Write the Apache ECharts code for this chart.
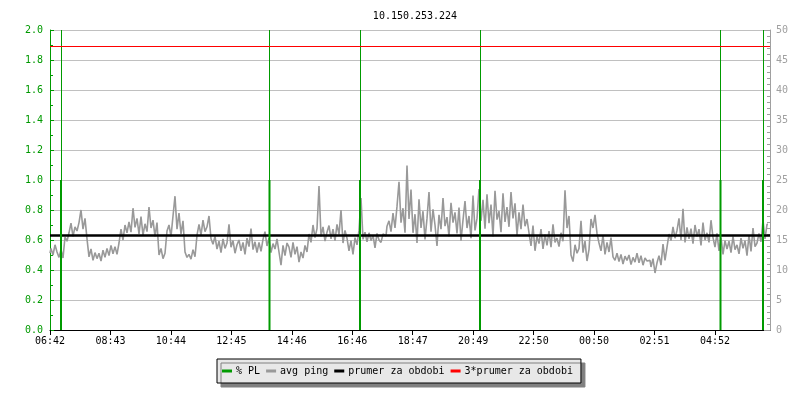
<!DOCTYPE html>
<html>
<head>
<meta charset="utf-8">
<script src="https://cdn.jsdelivr.net/npm/echarts@6/dist/echarts.min.js"></script>
<style>html,body{margin:0;padding:0;background:#fff}#c{width:800px;height:400px}</style>
</head>
<body>
<div id="c"></div>
<script>
// ---- data ----
var titleText = '10.150.253.224';
var tickLabels = ['06:42','08:43','10:44','12:45','14:46','16:46','18:47','20:49','22:50','00:50','02:51','04:52'];
var tickStepMin = 120.9;     // minutes between time labels
var spanMin = 1440;          // minutes shown
var pingStepMin = 4;         // minutes between ping samples
// avg ping (ms), one sample every 4 minutes starting at 06:42
var pingValues = [
12.8,13.6,12.5,14.2,13.0, 12.1,13.4,12.0,15.5,14.8, 16.2,17.8,15.6,17.2,16.5, 17.9,20.0,16.8,18.6,15.2,
12.2,13.5,11.6,12.9,11.9, 12.8,11.5,13.3,12.1,13.6, 12.4,14.1,12.7,13.9,12.6, 14.5,16.8,15.0,17.5,16.2,
18.0,16.3,20.3,17.1,18.6, 16.0,18.9,15.8,17.7,16.4, 20.5,17.0,18.3,15.6,17.9, 12.5,13.6,11.9,12.8,16.5,
17.5,15.6,19.0,22.3,16.8, 19.5,16.0,18.2,13.0,12.1, 12.6,11.8,13.4,12.2,15.8, 17.6,15.8,18.3,16.4,17.2,
19.0,15.2,14.3,15.6,13.5, 14.8,12.9,15.2,13.6,14.5, 17.6,13.8,14.9,12.8,14.2, 15.0,13.2,14.6,12.6,15.3,
13.9,16.9,13.4,14.7,12.9, 14.6,13.1,15.1,16.4,14.0, 15.3,12.9,14.4,13.5,15.2, 13.0,10.8,14.1,12.4,14.5,
13.8,12.1,14.6,12.6,13.9, 11.3,13.0,12.0,14.1,13.0, 16.0,14.6,17.5,15.4,16.9, 24.0,15.6,17.2,14.8,16.3,
17.4,15.2,16.8,14.9,17.6, 15.9,20.0,14.5,16.6,15.3, 13.2,14.9,12.6,15.4,14.2, 16.6,22.0,15.1,16.3,14.7,
16.2,14.9,15.8,13.7,16.1, 15.0,14.6,16.0,15.7,17.3, 18.2,16.4,19.5,17.0,20.6, 24.7,17.9,20.3,16.2,27.4,
18.5,23.4,16.2,19.3,14.5, 21.8,17.0,19.8,15.1,18.6, 23.0,16.4,20.1,17.5,14.0, 19.2,16.8,22.0,17.3,18.8,
15.6,21.2,17.9,19.6,16.1, 20.4,14.9,18.3,21.5,17.0, 19.0,15.3,22.4,16.6,18.6, 23.5,18.2,21.7,16.9,22.6,
17.8,20.9,15.6,23.2,18.4, 19.8,16.3,22.8,18.0,20.5, 17.2,23.0,18.6,21.1,15.8, 19.6,16.8,20.9,17.3,18.5,
16.2,14.0,17.4,13.2,15.6, 14.4,16.8,13.5,15.9,14.1, 16.5,13.8,17.6,14.6,15.3, 13.9,16.2,14.8,23.3,17.0,
19.0,12.5,11.4,14.2,12.8, 13.6,18.2,12.9,14.8,11.5, 13.4,18.5,17.0,19.2,16.1, 14.5,13.2,15.8,12.6,14.6,
13.0,15.4,12.2,11.6,12.8, 11.4,12.6,11.0,12.3,11.6, 12.5,10.9,12.1,11.3,12.8, 11.2,12.4,10.8,12.0,11.5,
11.6,10.5,11.9,9.5,11.2, 12.4,10.8,14.3,11.6,13.8, 16.0,14.9,17.2,15.3,16.6, 18.6,15.0,20.2,14.6,17.1,
15.2,16.9,14.4,17.5,15.6, 16.8,14.1,17.9,15.0,16.2, 14.6,18.3,15.4,13.8,16.1, 13.2,15.4,12.6,14.9,13.5,
14.8,12.9,15.6,13.4,14.2, 12.7,15.3,13.6,14.9,12.4, 15.8,13.1,17.0,13.9,14.5, 16.1,14.7,18.3,15.2,17.6
];
// packet loss events: minutes after 06:42 and % value
var plTimes = [22, 439, 620, 860, 1341, 1426];
var plValues = [1.0, 1.0, 1.0, 1.0, 1.0, 1.0];
var avgPing = 15.75;          // prumer za obdobi (ms)
var avgPing3 = 47.25;         // 3*prumer za obdobi (ms)
var seriesNames = ['% PL', 'avg ping', 'prumer za obdobi', '3*prumer za obdobi'];

// ---- chart ----
var FONT = 'DejaVu Sans Mono';
var green = '#009a00', gray = '#999999';
var pingData = pingValues.map(function (v, i) { return [i * pingStepMin, v]; });
var plData = plTimes.map(function (t, i) { return [t, plValues[i]]; });

var chart = echarts.init(document.getElementById('c'), null, {renderer: 'canvas'});
chart.setOption({
  animation: false,
  backgroundColor: '#ffffff',
  title: {
    text: titleText, left: 410, top: 6, textAlign: 'center',
    textStyle: {fontFamily: FONT, fontSize: 10, fontWeight: 'normal', color: '#000'}
  },
  legend: {
    data: seriesNames,
    left: 217, top: 359,
    icon: 'rect', itemWidth: 10, itemHeight: 3, itemGap: 6,
    padding: [7, 8, 7, 5],
    backgroundColor: '#e8e8e8', borderColor: '#000', borderWidth: 1,
    shadowColor: '#808080', shadowOffsetX: 4, shadowOffsetY: 4, shadowBlur: 0,
    textStyle: {fontFamily: FONT, fontSize: 10, color: '#000', padding: [0, 0, 0, -1]}
  },
  grid: {left: 50, right: 30, top: 30, bottom: 70, containLabel: false},
  xAxis: {
    type: 'value', min: 0, max: spanMin, interval: tickStepMin,
    axisLine: {lineStyle: {color: '#000', width: 1}},
    axisTick: {show: true, length: 5, lineStyle: {color: '#000'}},
    splitLine: {show: false},
    axisLabel: {
      fontFamily: FONT, fontSize: 10, color: '#000', margin: 6,
      showMaxLabel: false,
      formatter: function (v) {
        var idx = Math.round(v / tickStepMin);
        if (Math.abs(v - idx * tickStepMin) > 1) return '';
        return tickLabels[idx] || '';
      }
    }
  },
  yAxis: [{
    type: 'value', min: 0, max: 2, interval: 0.2, position: 'left',
    axisLine: {show: true, lineStyle: {color: green, width: 1}},
    axisTick: {show: true, inside: true, length: 4, lineStyle: {color: green}},
    minorTick: {show: true, splitNumber: 2, length: 3, lineStyle: {color: green}},
    splitLine: {show: true, lineStyle: {color: '#c0c0c0', width: 1}},
    axisLabel: {fontFamily: FONT, fontSize: 10, color: green, margin: 7,
      formatter: function (v) { return v.toFixed(1); }}
  }, {
    type: 'value', min: 0, max: 50, interval: 5, position: 'right',
    axisLine: {show: true, lineStyle: {color: '#a0a0a0', width: 1}},
    axisTick: {show: true, inside: true, length: 6, lineStyle: {color: '#a0a0a0'}},
    minorTick: {show: true, splitNumber: 5, length: 3, lineStyle: {color: '#a0a0a0'}},
    splitLine: {show: false},
    axisLabel: {fontFamily: FONT, fontSize: 10, color: '#a0a0a0', margin: 6}
  }],
  series: [{
    name: seriesNames[1], type: 'line', yAxisIndex: 1, data: pingData, step: 'middle',
    showSymbol: false, symbol: 'none', lineStyle: {color: gray, width: 1.6}, itemStyle: {color: gray},
    z: 2
  }, {
    name: seriesNames[2], type: 'line', yAxisIndex: 1,
    data: [[0, avgPing], [spanMin, avgPing]],
    showSymbol: false, symbol: 'none', lineStyle: {color: '#000', width: 2.5}, itemStyle: {color: '#000'},
    z: 3
  }, {
    name: seriesNames[0], type: 'bar', yAxisIndex: 0, data: plData, barWidth: 2,
    itemStyle: {color: green}, z: 4,
    markLine: {
      silent: true, symbol: 'none', label: {show: false},
      lineStyle: {color: green, width: 1, type: 'solid'},
      data: plTimes.map(function (t) { return {xAxis: t}; })
    }
  }, {
    name: seriesNames[3], type: 'line', yAxisIndex: 1,
    data: [[0, avgPing3], [spanMin, avgPing3]],
    showSymbol: false, symbol: 'none', lineStyle: {color: '#ff0000', width: 1.2}, itemStyle: {color: '#ff0000'},
    z: 5
  }]
});
</script>
</body>
</html>
